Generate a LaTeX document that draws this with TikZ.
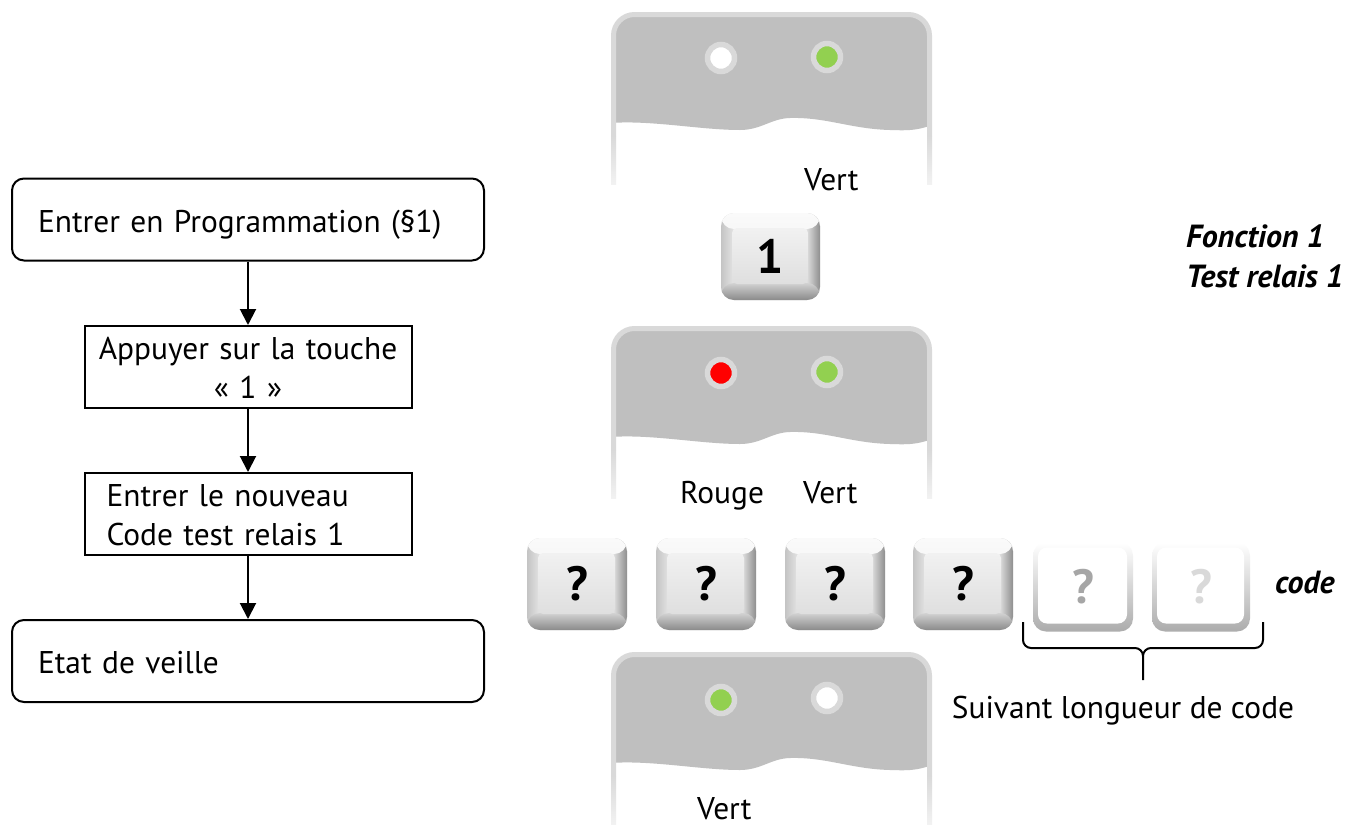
\documentclass[tikz,border=0pt]{standalone}
\usepackage{fontspec}
\setmainfont{PT Sans}
\usetikzlibrary{arrows.meta}
\definecolor{ledgreen}{HTML}{92D050}
\definecolor{ledred}{HTML}{FF0000}
\definecolor{panelgray}{HTML}{BFBFBF}
\definecolor{rimgray}{HTML}{D9D9D9}
\definecolor{keyface}{HTML}{E8E8E8}
\definecolor{kleft}{HTML}{C4C4C4}
\definecolor{kmid}{HTML}{E2E2E2}
\definecolor{kright}{HTML}{8E8E8E}
\definecolor{ktop}{HTML}{FAFAFA}
\definecolor{ktopin}{HTML}{ECECEC}
\definecolor{kbotin}{HTML}{D2D2D2}
\definecolor{kbot}{HTML}{8A8A8A}
\definecolor{fadeq}{HTML}{A6A6A6}
\definecolor{fadeqq}{HTML}{D9D9D9}
\pgfdeclarehorizontalshading{keyh}{100bp}{color(0bp)=(kleft); color(25bp)=(kleft); color(31bp)=(kmid); color(68bp)=(kmid); color(75bp)=(kright); color(100bp)=(kright)}
\tikzset{
  pics/panel/.style={code={
    \begin{scope}
      \clip (-5,-5) -- (330,-5) -- (330,113) -- (321,113)
        .. controls (305,119) and (295,118.5) .. (279,118)
        .. controls (240,117) and (215,105) .. (179,106)
        .. controls (160,106.5) and (150,118) .. (129,118)
        .. controls (90,118) and (40,108) .. (0,111) -- (-5,111) -- cycle;
      \fill[panelgray, rounded corners=21] (2.5,2.5) rectangle (318.5,200);
    \end{scope}
    \draw[rimgray, line width=5, rounded corners=21] (2.5,124) -- (2.5,2.5) -- (318.5,2.5) -- (318.5,124);
    \shade[top color=rimgray, bottom color=rimgray!35] (0,124) rectangle (5,172);
    \shade[top color=rimgray, bottom color=rimgray!35] (316,124) rectangle (321,172);
  }}
}
\begin{document}
\begin{tikzpicture}[x=1pt,y=-1pt,
  txt/.style={font=\fontsize{31.4}{39}\selectfont, inner sep=0pt},
  bitxt/.style={font=\bfseries\itshape\fontsize{32}{39}\selectfont, inner sep=0pt},
  flow/.style={draw, line width=2, font=\fontsize{31.4}{39}\selectfont, minimum height=82, inner ysep=0pt},
  oneline/.style={text height=25, text depth=0},
  twoline/.style={text height=23, text depth=39},
  flowarrow/.style={line width=2, -{Triangle[length=16,width=16]}},
  led/.style={circle, draw=rimgray, line width=5.5, minimum size=27, inner sep=0pt},
  keybtn/.style={rounded corners=13, inner sep=0pt, shading=keyh,
    font=\bfseries\fontsize{48}{48}\selectfont,
    path picture={
      \shade[top color=ktop, bottom color=ktopin]
        (path picture bounding box.north west) rectangle ([yshift=-16]path picture bounding box.north east);
      \shade[top color=kbotin, bottom color=kbot]
        ([yshift=17]path picture bounding box.south west) rectangle (path picture bounding box.south east);
      \shade[top color=keyface!60!white, bottom color=keyface!96!black, rounded corners=5]
      ([xshift=11,yshift=-15]path picture bounding box.north west) rectangle
      ([xshift=-12,yshift=16]path picture bounding box.south east);}},
  fadekey/.style={rounded corners=13, inner sep=0pt, top color=white, middle color=gray!25, bottom color=gray!65,
    font=\bfseries\fontsize{48}{48}\selectfont,
    path picture={\fill[white, rounded corners=9]
      ([xshift=5,yshift=-5]path picture bounding box.north west) rectangle
      ([xshift=-6,yshift=8]path picture bounding box.south east);}},
]
\useasboundingbox (0,0) rectangle (1355,830);
\fill[white] (0,0) rectangle (1355,830);

% ---------- flowchart ----------
\node[flow, oneline, rounded corners=12, text width=420, inner xsep=26, align=left] (b1) at (248,219.5) {Entrer en Programmation (§1)};
\node[flow, twoline, text width=307, inner xsep=10, align=center] (b2) at (248,367) {Appuyer sur la touche\\« 1 »};
\node[flow, twoline, text width=283, inner xsep=22, align=left] (b3) at (248,514) {Entrer le nouveau\\Code test relais 1};
\node[flow, oneline, rounded corners=12, text width=420, inner xsep=26, align=left] (b4) at (248,661) {Etat de veille};
\draw[flowarrow] (b1.south) -- (b2.north);
\draw[flowarrow] (b2.south) -- (b3.north);
\draw[flowarrow] (b3.south) -- (b4.north);

% ---------- panels ----------
\pic at (611,12) {panel};
\pic at (611,326) {panel};
\pic at (611,652) {panel};

\node[led, fill=white] (p1a) at (721,58) {};
\node[led, fill=ledgreen] (p1b) at (827,57) {};
\node[led, fill=ledred] (p2a) at (721,373) {};
\node[led, fill=ledgreen] (p2b) at (827,372) {};
\node[led, fill=ledgreen] (p3a) at (721,700) {};
\node[led, fill=white] (p3b) at (827,698) {};

\node[txt, anchor=base west] (v1) at (804,190) {Vert};
\node[txt, anchor=base west] (r2) at (680,503) {Rouge};
\node[txt, anchor=base west] (v2) at (803,503) {Vert};
\node[txt, anchor=base west] (v3) at (697,819) {Vert};

% ---------- keys ----------
\node[keybtn, minimum width=99, minimum height=87] (k1) at (770.5,256.5) {1};
\node[keybtn, minimum width=100, minimum height=92] (q1) at (577,584) {?};
\node[keybtn, minimum width=100, minimum height=92] (q2) at (706,584) {?};
\node[keybtn, minimum width=100, minimum height=92] (q3) at (835,584) {?};
\node[keybtn, minimum width=100, minimum height=92] (q4) at (963,584) {?};
\node[fadekey, minimum width=100, minimum height=89, text=fadeq] (q5) at (1083,587) {?};
\node[fadekey, minimum width=98, minimum height=89, text=fadeqq] (q6) at (1201,587) {?};

% ---------- labels ----------
\node[bitxt, anchor=base west] (f1) at (1186,247) {Fonction 1};
\node[bitxt, anchor=base west] (f2) at (1186,287) {Test relais 1};
\node[bitxt, anchor=base west] (cd) at (1275,593) {code};

\coordinate (brL) at (1023,622);
\coordinate (brR) at (1263,622);
\coordinate (brT) at (1143,680);
\draw[line width=2] (brL) -- (1023,640) to[out=-90,in=180] (1031,648) -- (1135,648) to[out=0,in=90] (1143,656) -- (brT);
\draw[line width=2] (1143,656) to[out=90,in=180] (1151,648) -- (1255,648) to[out=0,in=-90] (1263,640) -- (brR);
\node[txt, anchor=base] (sl) at (1123,718) {Suivant longueur de code};
\end{tikzpicture}
\end{document}
